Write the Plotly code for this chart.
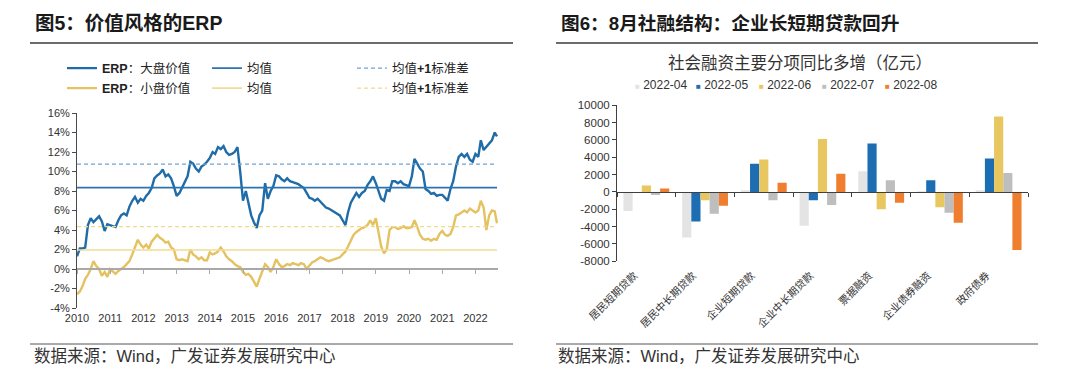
import plotly.graph_objects as go
import pandas as pd

W, H = 1080, 371

# ---------------- Left panel data: ERP of value styles (%), monthly ----------------
erp_dates = list(pd.date_range("2010-01-01", "2022-08-01", freq="MS").strftime("%Y-%m-%d")) + ["2022-08-26"]

erp_large_value = [
    1.3, 2.1, 2.1, 2.2, 4.5, 5.2, 4.8, 5.1, 5.4, 4.9, 3.9, 4.6,        # 2010
    4.5, 4.4, 4.3, 5.0, 5.5, 5.7, 5.5, 6.4, 7.0, 7.4, 6.8, 7.2,        # 2011
    7.0, 7.5, 7.8, 8.3, 9.3, 9.6, 9.8, 10.2, 9.5, 9.7, 9.3, 8.5,       # 2012
    7.5, 7.8, 8.3, 9.0, 9.5, 11.0, 10.8, 10.3, 10.0, 10.5, 10.7, 11.0, # 2013
    11.4, 12.0, 11.8, 12.5, 12.3, 12.6, 12.0, 11.7, 11.8, 12.0, 12.5, 10.0,  # 2014
    7.0, 8.0, 6.9, 5.5, 4.8, 4.2, 5.5, 6.0, 8.8, 7.2, 8.0, 8.5,        # 2015
    9.6, 9.5, 9.2, 9.0, 9.3, 9.0, 8.9, 8.8, 8.7, 8.5, 8.3, 7.8,        # 2016
    7.3, 7.2, 7.0, 7.2, 6.9, 6.5, 6.3, 6.2, 6.0, 5.8, 5.6, 5.5,        # 2017
    5.0, 4.5, 5.8, 6.8, 7.3, 7.8, 7.4, 7.8, 8.0, 8.6, 9.0, 9.5,        # 2018
    8.8, 8.0, 7.2, 7.0, 8.1, 8.0, 9.0, 9.0, 8.8, 9.0, 8.7, 8.6,        # 2019
    8.5, 9.5, 11.3, 10.8, 10.3, 10.0, 8.2, 8.0, 7.7, 7.8, 7.5, 7.6,    # 2020
    7.6, 7.3, 7.0, 8.2, 9.0, 10.5, 11.5, 11.8, 11.5, 11.8, 11.2, 11.0, # 2021
    11.8, 11.5, 13.2, 12.2, 12.5, 12.8, 13.2, 14.0, 13.6,              # 2022
]

erp_small_value = [
    -2.6, -2.3, -1.8, -1.0, -0.6, 0.0, 0.8, 0.3, 0.0, -0.7, -0.3, -0.8,  # 2010
    0.0, -0.3, -0.5, -0.2, 0.0, 0.2, 0.5, 0.8, 1.5, 2.3, 3.0, 2.5,       # 2011
    2.2, 2.5, 2.1, 2.8, 3.2, 3.5, 3.2, 3.0, 2.7, 2.8, 2.2, 2.0,          # 2012
    1.0, 0.9, 1.0, 0.9, 0.8, 2.0, 1.5, 1.3, 1.0, 1.2, 0.9, 0.9,          # 2013
    1.7, 1.5, 1.6, 1.8, 2.2, 1.8, 1.3, 1.0, 0.8, 0.5, 0.3, 0.2,          # 2014
    -0.3, -0.6, -0.5, -0.8, -1.3, -1.8, -1.0, -0.3, 0.5, 0.2, -0.3, 0.2, # 2015
    1.0, 0.5, 0.2, 0.3, 0.5, 0.4, 0.6, 0.5, 0.4, 0.6, 0.5, 0.0,          # 2016
    0.4, 0.7, 0.8, 1.0, 1.2, 1.1, 0.9, 0.8, 0.9, 1.0, 1.1, 1.2,          # 2017
    1.5, 1.8, 2.3, 3.0, 3.5, 3.8, 4.0, 4.2, 4.3, 4.5, 5.0, 4.5,          # 2018
    5.2, 3.8, 2.3, 1.6, 2.0, 4.0, 4.3, 4.3, 4.1, 4.2, 4.4, 4.2,          # 2019
    4.2, 4.3, 5.0, 4.3, 3.5, 3.1, 3.0, 3.1, 2.9, 3.1, 3.0, 3.6,          # 2020
    3.9, 3.5, 3.4, 3.6, 4.3, 5.5, 5.6, 5.8, 6.0, 5.8, 6.2, 6.0,          # 2021
    5.8, 6.0, 7.0, 6.3, 4.0, 5.5, 6.0, 5.9, 4.7,                         # 2022
]

large_mean = 8.35
large_mean_plus_1sd = 10.75
small_mean = 1.95
small_mean_plus_1sd = 4.35

year_labels = [str(y) for y in range(2010, 2023)]
year_tick_dates = [f"{y}-01-01" for y in range(2010, 2023)]
pct_ticks = [-4, -2, 0, 2, 4, 6, 8, 10, 12, 14, 16]

# ---------------- Right panel data: TSF components, YoY increase (100m CNY) ----------------
categories = ["居民短期贷款", "居民中长期贷款", "企业短期贷款", "企业中长期贷款",
              "票据融资", "企业债券融资", "政府债券"]
series_names = ["2022-04", "2022-05", "2022-06", "2022-07", "2022-08"]
v_2022_04 = [-2200, -5250, 100, -3900, 2400, 50, 100]
v_2022_05 = [0, -3400, 3250, -950, 5600, 1350, 3850]
v_2022_06 = [750, -950, 3750, 6100, -2000, -1750, 8700]
v_2022_07 = [-350, -2500, -950, -1500, 1350, -2400, 2200]
v_2022_08 = [400, -1600, 1050, 2100, -1250, -3550, -6700]
bar_values = [v_2022_04, v_2022_05, v_2022_06, v_2022_07, v_2022_08]
bar_colors = ["#E4E4E4", "#1C6DB1", "#E8C760", "#BEBEBE", "#EF7F2F"]
y2_ticks = list(range(-8000, 10001, 2000))


def px_x(p):
    return p / W


def px_y(p):
    return 1 - p / H


FONT = "Liberation Sans, Arial, Noto Sans CJK SC, sans-serif"
CJK = "Noto Sans CJK SC, Liberation Sans, sans-serif"

BLUE = "#1F6CA8"
BLUE_MEAN = "#2C73B0"
BLUE_DASH = "#6FA3D2"
YEL = "#E4C262"
YEL_MEAN = "#F0DC95"
YEL_DASH = "#EFD98A"

fig = go.Figure()

# Left panel traces
xspan = [erp_dates[0], erp_dates[-1]]
fig.add_trace(go.Scatter(x=erp_dates, y=erp_large_value, mode="lines", name="<b>ERP</b>：大盘价值",
                         line=dict(color=BLUE, width=2.4), xaxis="x", yaxis="y", legend="legend"))
fig.add_trace(go.Scatter(x=xspan, y=[large_mean] * 2, mode="lines", name="均值",
                         line=dict(color=BLUE_MEAN, width=1.6), xaxis="x", yaxis="y", legend="legend"))
fig.add_trace(go.Scatter(x=xspan, y=[large_mean_plus_1sd] * 2, mode="lines", name="均值<b>+1</b>标准差",
                         line=dict(color=BLUE_DASH, width=1.3, dash="4px,3px"), xaxis="x", yaxis="y",
                         legend="legend"))
fig.add_trace(go.Scatter(x=erp_dates, y=erp_small_value, mode="lines", name="<b>ERP</b>：小盘价值",
                         line=dict(color=YEL, width=2.4), xaxis="x", yaxis="y", legend="legend2"))
fig.add_trace(go.Scatter(x=xspan, y=[small_mean] * 2, mode="lines", name="均值",
                         line=dict(color=YEL_MEAN, width=1.6), xaxis="x", yaxis="y", legend="legend2"))
fig.add_trace(go.Scatter(x=xspan, y=[small_mean_plus_1sd] * 2, mode="lines", name="均值<b>+1</b>标准差",
                         line=dict(color=YEL_DASH, width=1.3, dash="4px,3px"), xaxis="x", yaxis="y",
                         legend="legend2"))
# carrier for zero-line axis on left
fig.add_trace(go.Scatter(x=[erp_dates[0]], y=[None], mode="lines", showlegend=False,
                         hoverinfo="skip", xaxis="x3", yaxis="y"))

# Right panel traces
for name, vals, col in zip(series_names, bar_values, bar_colors):
    fig.add_trace(go.Bar(x=categories, y=vals, name=name, marker=dict(color=col, line=dict(width=0)),
                         xaxis="x2", yaxis="y2", showlegend=False))
fig.add_trace(go.Scatter(x=[0], y=[None], mode="lines", showlegend=False,
                         hoverinfo="skip", xaxis="x4", yaxis="y2"))

ydom_l = [px_y(300), px_y(105)]
ydom_r = [px_y(253.3), px_y(97.3)]
zero_pos_l = ydom_l[0] + (0 - (-4)) / 20 * (ydom_l[1] - ydom_l[0])
zero_pos_r = ydom_r[0] + (0 - (-8000)) / 18000 * (ydom_r[1] - ydom_r[0])

axis_font = dict(family=FONT, size=11, color="#333333")

fig.update_layout(
    width=W, height=H,
    margin=dict(l=0, r=0, t=0, b=0, autoexpand=False),
    paper_bgcolor="white", plot_bgcolor="white",
    font=dict(family=FONT, color="#333333"),
    barmode="group", bargap=0.22, bargroupgap=0,
    xaxis=dict(domain=[px_x(69), px_x(490)], anchor="y", type="date",
               range=["2010-01-01", "2022-09-06"], tickvals=year_tick_dates, ticktext=year_labels,
               showline=False, ticks="", showgrid=False, zeroline=False, tickfont=axis_font,
               ticklabelstandoff=2),
    xaxis3=dict(overlaying="x", anchor="free", position=zero_pos_l, matches="x", type="date",
                tickvals=year_tick_dates, showticklabels=False, showline=True, linecolor="#A9A9A9",
                linewidth=1.5, ticks="outside", ticklen=4, tickcolor="#A9A9A9", tickwidth=1,
                showgrid=False, zeroline=False),
    yaxis=dict(domain=ydom_l, anchor="x", range=[-4, 16], tickvals=pct_ticks,
               ticktext=[f"{v}%" for v in pct_ticks], showline=True, linecolor="#4A4A4A", linewidth=1,
               ticks="outside", ticklen=4, tickcolor="#4A4A4A", showgrid=False, zeroline=False,
               tickfont=axis_font),
    xaxis2=dict(domain=[px_x(609), px_x(1020)], anchor="y2", type="category", range=[-0.5, 6.5],
                tickangle=-45, ticks="", showline=False, showgrid=False, zeroline=False,
                tickfont=dict(family=CJK, size=10.5, color="#333333"), ticklabelstandoff=5,
                ticklabelshift=-12),
    xaxis4=dict(overlaying="x2", anchor="free", position=zero_pos_r, range=[-0.5, 6.5],
                tickvals=[i - 0.5 for i in range(8)], showticklabels=False, showline=True,
                linecolor="#404040", linewidth=1, ticks="outside", ticklen=4, tickcolor="#404040",
                showgrid=False, zeroline=False),
    yaxis2=dict(domain=ydom_r, anchor="x2", range=[-8000, 10000], tickvals=y2_ticks,
                ticktext=[str(v) for v in y2_ticks],
                showline=True, linecolor="#404040", linewidth=1, ticks="outside", ticklen=4,
                tickcolor="#404040", showgrid=False, zeroline=False,
                tickfont=dict(family=FONT, size=11.5, color="#333333")),
    legend=dict(orientation="h", x=px_x(54), y=px_y(60.5), xanchor="left", yanchor="middle",
                entrywidth=100, entrywidthmode="pixels", bgcolor="rgba(0,0,0,0)",
                font=dict(family=FONT, size=12.5, color="#222222"), itemclick=False),
    legend2=dict(orientation="h", x=px_x(54), y=px_y(80.5), xanchor="left", yanchor="middle",
                 entrywidth=100, entrywidthmode="pixels", bgcolor="rgba(0,0,0,0)",
                 font=dict(family=FONT, size=12.5, color="#222222"), itemclick=False),
    showlegend=True,
)

# Legend for the bar panel (compact, as in the source chart)
legend_x_px = [625, 686, 749, 812, 875]
for name, col, lx in zip(series_names, bar_colors, legend_x_px):
    fig.add_annotation(x=px_x(lx), y=px_y(77), xref="paper", yref="paper", xanchor="left",
                       yanchor="middle", showarrow=False,
                       text=f'<span style="color:{col};font-size:8px">■</span> {name}',
                       font=dict(family=FONT, size=12, color="#333333"))

# Titles, rules and source notes
fig.add_annotation(x=px_x(25), y=px_y(15), xref="paper", yref="paper", xanchor="left", yanchor="middle",
                   text="<b>图5：价值风格的ERP</b>", showarrow=False,
                   font=dict(family=FONT, size=19.5, color="#1A1A1A"))
fig.add_annotation(x=px_x(551), y=px_y(15), xref="paper", yref="paper", xanchor="left", yanchor="middle",
                   text="<b>图6：8月社融结构：企业长短期贷款回升</b>", showarrow=False,
                   font=dict(family=FONT, size=18.7, color="#1A1A1A"))
fig.add_annotation(x=px_x(792), y=px_y(54), xref="paper", yref="paper", xanchor="center", yanchor="middle",
                   text="社会融资主要分项同比多增（亿元）", showarrow=False,
                   font=dict(family=CJK, size=16.5, color="#333333"))
fig.add_annotation(x=px_x(24), y=px_y(348), xref="paper", yref="paper", xanchor="left", yanchor="middle",
                   text="数据来源：Wind，广发证券发展研究中心", showarrow=False,
                   font=dict(family=FONT, size=16.5, color="#333333"))
fig.add_annotation(x=px_x(548), y=px_y(348), xref="paper", yref="paper", xanchor="left", yanchor="middle",
                   text="数据来源：Wind，广发证券发展研究中心", showarrow=False,
                   font=dict(family=FONT, size=16.5, color="#333333"))

for (x0, x1, yy, col, wd) in [(22, 505, 35, "#3A3A3A", 1.5), (548, 1030, 35, "#3A3A3A", 1.5),
                              (22, 505, 336, "#555555", 1.2), (548, 1030, 336, "#555555", 1.2)]:
    fig.add_shape(type="line", xref="paper", yref="paper", x0=px_x(x0), x1=px_x(x1),
                  y0=px_y(yy), y1=px_y(yy), line=dict(color=col, width=wd))

fig.write_html("out.html")
